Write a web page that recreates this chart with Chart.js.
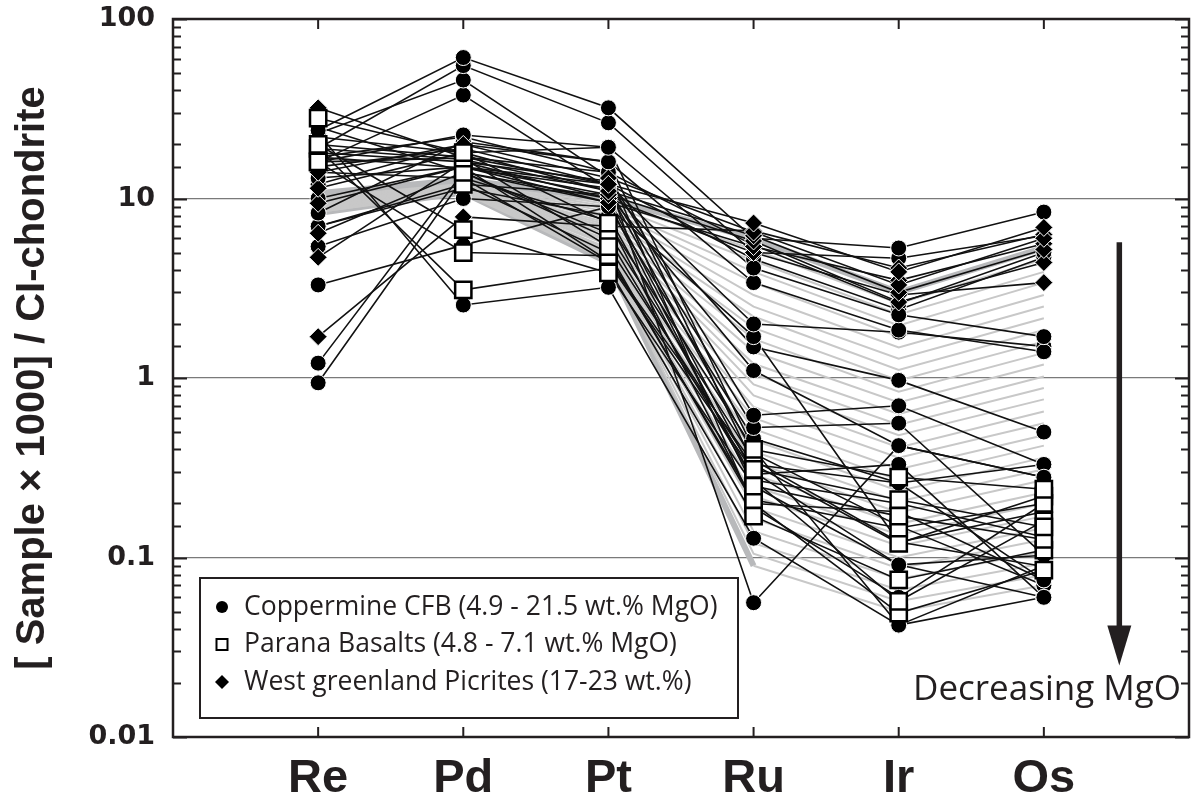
<!DOCTYPE html>
<html>
<head>
<meta charset="utf-8">
<title>PGE spider diagram</title>
<script src="https://cdn.jsdelivr.net/npm/chart.js@4.4.1/dist/chart.umd.min.js"></script>
<style>
  html, body { margin: 0; padding: 0; background: #fff; }
  #wrap { width: 1203px; height: 807px; position: relative; }
</style>
</head>
<body>
<div id="wrap"><canvas id="pge-chart"></canvas></div>
<script>
// elements on the x axis
const elements = ['Re', 'Pd', 'Pt', 'Ru', 'Ir', 'Os'];
const yTicks = [0.01, 0.1, 1, 10, 100];

// Coppermine CFB samples (circles): Re, Pd, Pt, Ru, Ir, Os
const coppermineCFB = [
    [24, 61, 32, 6.0, 5.3, 8.4],
    [19, 55, 26.4, 5.0, 4.65, 6.2],
    [16, 22.6, 19.3, 4.1, 2.25, 1.7],
    [8.3, 20.7, 16, 3.4, 1.85, 1.4],
    [13, 15, 12, 2.0, 1.8, 1.5],
    [5.4, 10, 9, 1.7, 0.122, 0.18],
    [17, 14.8, 11.4, 1.49, 0.97, 0.5],
    [7, 12, 10.5, 1.1, 0.42, 0.28],
    [20, 17, 14, 5.5, 2.6, 5.0],
    [15, 19, 12, 4.6, 2.4, 4.7],
    [23, 45.7, 13.2, 0.62, 0.7, 0.33],
    [16, 37.7, 11.4, 0.53, 0.56, 0.103],
    [3.3, 5.5, 9, 0.46, 0.26, 0.075],
    [1.21, 14, 6.4, 0.35, 0.122, 0.089],
    [0.94, 13, 4.4, 0.3, 0.091, 0.06],
    [23, 2.55, 3.2, 0.128, 0.042, 0.06],
    [18, 16, 12.5, 0.056, 0.42, 0.28],
    [12, 20, 16, 0.33, 0.26, 0.33],
    [22, 18, 19.3, 0.4, 0.042, 0.09],
    [10, 15, 9.5, 0.25, 0.091, 0.103],
    [14, 13, 7.5, 0.2, 0.18, 0.075],
    [17, 22, 14, 0.19, 0.06, 0.2],
    [19, 16.5, 11, 0.38, 0.15, 0.07],
    [7, 11.4, 8, 0.27, 0.2, 0.13],
    [25, 14, 10, 0.29, 0.33, 0.06]
];

// Parana basalts (open squares)
const paranaBasalts = [
    [28, 18, 7.3, 0.4, 0.28, 0.24],
    [16, 16.8, 5.4, 0.31, 0.21, 0.148],
    [20, 6.7, 3.85, 0.25, 0.17, 0.126],
    [16, 5.0, 4.8, 0.21, 0.146, 0.2],
    [19, 3.1, 4.1, 0.17, 0.075, 0.11],
    [null, 14, 6, 0.27, 0.057, 0.16],
    [null, 12, 5, 0.2, 0.049, 0.085],
    [null, 15, 4.5, 0.33, 0.12, 0.22]
];

// West Greenland picrites (diamonds)
const greenlandPicrites = [
    [32, 17, 12, 7.3, 3.9, 6.9],
    [14, 20, 13, 6.5, 3.3, 6.0],
    [11.4, 18, 11, 6.2, 3.0, 5.2],
    [9.4, 15, 10.5, 5.8, 2.65, 4.4],
    [6.4, 14, 9.5, 5.4, 3.5, 5.6],
    [4.7, 16, 10, 5.0, 2.9, 3.4],
    [1.7, 7.9, 7.0, 6.6, 4.1, 6.3]
];

// grey model curves, one value per curve for each element
const modelRe = [10.7, 10.6, 10.5, 10.4, 10.3, 10.2, 10.1, 10.0, 9.9, 9.8, 9.7, 9.6, 9.5, 9.4, 9.3, 9.2, 9.1, 9.0, 8.9, 8.8, 8.8, 8.7, 8.7, 8.6, 8.6, 8.5, 8.5, 8.4, 8.4, 8.3];
const modelPd = [12.7, 12.6, 12.5, 12.4, 12.4, 12.3, 12.2, 12.1, 12.0, 11.9, 11.8, 11.8, 11.7, 11.6, 11.5, 11.5, 11.4, 11.3, 11.3, 11.2, 11.2, 11.1, 11.1, 11.0, 11.0, 10.9, 10.9, 10.9, 10.8, 10.8];
const modelPt = [10.0, 9.6, 9.3, 9.0, 8.7, 8.4, 8.1, 7.8, 7.6, 7.3, 7.1, 6.9, 6.7, 6.5, 6.3, 6.1, 5.9, 5.8, 5.6, 5.5, 5.3, 5.2, 5.1, 5.0, 4.9, 4.8, 4.7, 4.6, 4.5, 4.4];
const modelRu = [6.0, 5.2, 4.5, 3.9, 3.4, 2.9, 2.5, 2.2, 1.9, 1.65, 1.4, 1.2, 1.05, 0.92, 0.8, 0.69, 0.6, 0.52, 0.45, 0.39, 0.34, 0.29, 0.25, 0.22, 0.19, 0.165, 0.14, 0.12, 0.105, 0.09];
const modelIr = [3.0, 2.6, 2.26, 1.96, 1.7, 1.48, 1.28, 1.11, 0.97, 0.84, 0.73, 0.63, 0.55, 0.48, 0.41, 0.36, 0.31, 0.27, 0.235, 0.205, 0.178, 0.154, 0.134, 0.116, 0.1, 0.087, 0.076, 0.066, 0.057, 0.05];
const modelOs = [5.3, 4.6, 3.9, 3.4, 2.9, 2.5, 2.15, 1.85, 1.6, 1.38, 1.19, 1.02, 0.88, 0.76, 0.65, 0.56, 0.48, 0.42, 0.36, 0.31, 0.27, 0.23, 0.2, 0.17, 0.146, 0.126, 0.108, 0.093, 0.08, 0.07];

const legendLabels = [
    'Coppermine CFB (4.9 - 21.5 wt.% MgO)',
    'Parana Basalts (4.8 - 7.1 wt.% MgO)',
    'West greenland Picrites (17-23 wt.%)'
];

const ink = '#231f20';

function toPoints(row) {
    return row.map((v, i) => ({ x: i + 1, y: v }));
}

function isDecade(v) {
    const l = Math.log10(v);
    return Math.abs(l - Math.round(l)) < 1e-6;
}

// first group ends up on top
const groups = [
    { rows: paranaBasalts, style: 'rect', radius: 11.5, fill: '#fff', edge: '#000', edgeWidth: 2.5 },
    { rows: greenlandPicrites, style: 'rectRot', radius: 9, fill: '#000', edge: '#fff', edgeWidth: 1 },
    { rows: coppermineCFB, style: 'circle', radius: 8, fill: '#000', edge: '#fff', edgeWidth: 1 }
];

const datasets = [];

// markers
groups.forEach(g => {
    g.rows.forEach(row => {
        datasets.push({
            data: toPoints(row),
            showLine: false,
            pointStyle: g.style,
            pointRadius: g.radius,
            pointBackgroundColor: g.fill,
            pointBorderColor: g.edge,
            pointBorderWidth: g.edgeWidth,
            order: 0
        });
    });
});

// black sample lines
groups.forEach(g => {
    g.rows.forEach(row => {
        datasets.push({
            data: toPoints(row),
            borderColor: '#111',
            borderWidth: 1.6,
            pointRadius: 0,
            spanGaps: false,
            order: 1
        });
    });
});

// grey model lines underneath; outer curves drawn heavier where they bound the fan
const lastModel = modelRe.length - 1;
modelRe.forEach((_, k) => {
    const row = [modelRe[k], modelPd[k], modelPt[k], modelRu[k], modelIr[k], modelOs[k]];
    datasets.push({
        data: toPoints(row),
        borderColor: '#c8c8c8',
        borderWidth: 2,
        pointRadius: 0,
        segment: {
            borderWidth: s => {
                if (k === 0) return 6;
                if (k === lastModel && s.p0DataIndex <= 2) return 6;
                return 2;
            },
            borderColor: s => ((k === 0 || (k === lastModel && s.p0DataIndex <= 2)) ? '#b8b9bb' : '#c8c8c8')
        },
        order: 2
    });
});

// frame, inward ticks, legend box and the MgO arrow
const frameAndNotes = {
    id: 'frameAndNotes',
    afterDatasetsDraw(chart) {
        const { ctx, chartArea: a, scales: { x, y } } = chart;
        ctx.save();

        ctx.strokeStyle = ink;
        ctx.lineWidth = 2;
        y.ticks.forEach(t => {
            const py = Math.round(y.getPixelForValue(t.value)) + 0.5;
            const len = isDecade(t.value) ? 14 : 8;
            ctx.beginPath();
            ctx.moveTo(a.left, py); ctx.lineTo(a.left + len, py);
            ctx.moveTo(a.right, py); ctx.lineTo(a.right - len, py);
            ctx.stroke();
        });
        x.ticks.forEach(t => {
            if (t.value < 1 || t.value > elements.length) return;
            const px = x.getPixelForValue(t.value);
            ctx.beginPath();
            ctx.moveTo(px, a.top); ctx.lineTo(px, a.top + 10);
            ctx.moveTo(px, a.bottom); ctx.lineTo(px, a.bottom - 10);
            ctx.stroke();
        });
        ctx.lineWidth = 2.5;
        ctx.strokeRect(a.left, a.top, a.right - a.left, a.bottom - a.top);

        // legend
        const bx = a.left + 27, by = a.bottom - 159, bw = 538, bh = 140;
        ctx.fillStyle = '#fff';
        ctx.fillRect(bx, by, bw, bh);
        ctx.lineWidth = 2;
        ctx.strokeRect(bx, by, bw, bh);
        ctx.font = '26.5px "Open Sans"';
        ctx.textBaseline = 'middle';
        ctx.textAlign = 'left';
        legendLabels.forEach((label, i) => {
            const cy = by + 29 + i * 37.5;
            const mx = bx + 22;
            ctx.fillStyle = '#000';
            ctx.strokeStyle = '#000';
            if (i === 0) {
                ctx.beginPath(); ctx.arc(mx, cy, 6, 0, Math.PI * 2); ctx.fill();
            } else if (i === 1) {
                ctx.lineWidth = 2;
                ctx.strokeRect(mx - 5.5, cy - 5.5, 11, 11);
            } else {
                ctx.beginPath();
                ctx.moveTo(mx, cy - 7); ctx.lineTo(mx + 7, cy);
                ctx.lineTo(mx, cy + 7); ctx.lineTo(mx - 7, cy);
                ctx.closePath(); ctx.fill();
            }
            ctx.fillStyle = ink;
            ctx.fillText(label, bx + 44, cy);
        });

        // decreasing MgO arrow
        const ax = x.getPixelForValue(6.52);
        const top = y.getPixelForValue(5.7);
        const tip = y.getPixelForValue(0.025);
        ctx.strokeStyle = ink;
        ctx.fillStyle = ink;
        ctx.lineWidth = 5.5;
        ctx.beginPath();
        ctx.moveTo(ax, top); ctx.lineTo(ax, tip - 30);
        ctx.stroke();
        ctx.beginPath();
        ctx.moveTo(ax - 12, tip - 40); ctx.lineTo(ax + 12, tip - 40);
        ctx.lineTo(ax, tip); ctx.closePath(); ctx.fill();

        ctx.font = '35px "Open Sans"';
        ctx.textAlign = 'right';
        ctx.textBaseline = 'alphabetic';
        ctx.fillText('Decreasing MgO', a.right - 8, y.getPixelForValue(0.016));

        ctx.restore();
    }
};

const ctx = document.getElementById('pge-chart').getContext('2d');

new Chart(ctx, {
    type: 'line',
    data: { datasets },
    plugins: [frameAndNotes],
    options: {
        responsive: true,
        maintainAspectRatio: false,
        animation: false,
        layout: { padding: { left: 0, right: 8, top: 0, bottom: 0 } },
        plugins: {
            legend: { display: false },
            tooltip: { enabled: false }
        },
        elements: { line: { tension: 0 } },
        scales: {
            x: {
                type: 'linear',
                min: 0,
                max: elements.length + 1,
                afterFit(scale) { scale.height = 70; },
                grid: { display: false },
                border: { display: false },
                ticks: {
                    stepSize: 1,
                    autoSkip: false,
                    maxRotation: 0,
                    padding: 6,
                    color: ink,
                    font: { family: '"Liberation Sans", Arial, sans-serif', size: 47, weight: 'bold' },
                    callback: v => elements[v - 1] || ''
                }
            },
            y: {
                type: 'logarithmic',
                min: yTicks[0],
                max: yTicks[yTicks.length - 1],
                afterFit(scale) {
                    scale.width = 173;
                    scale.paddingTop = 19;
                    scale.paddingBottom = 0;
                },
                border: { display: false },
                grid: {
                    drawTicks: false,
                    lineWidth: 1.2,
                    color: c => (isDecade(c.tick.value) && c.tick.value > yTicks[0] && c.tick.value < yTicks[yTicks.length - 1]) ? '#7a7a7a' : 'rgba(0,0,0,0)'
                },
                ticks: {
                    autoSkip: false,
                    padding: 18,
                    color: ink,
                    font: { family: '"DejaVu Sans", sans-serif', size: 27, weight: 'bold' },
                    callback: v => {
                        const hit = yTicks.find(t => Math.abs(t - v) / t < 1e-6);
                        return hit === undefined ? '' : String(hit);
                    }
                },
                title: {
                    display: true,
                    text: '[ Sample \u00d7 1000] / CI-chondrite',
                    color: ink,
                    padding: { top: 9, bottom: 0 },
                    font: { family: '"Liberation Sans", Arial, sans-serif', size: 40, weight: 'bold' }
                }
            }
        }
    }
});
</script>
</body>
</html>
